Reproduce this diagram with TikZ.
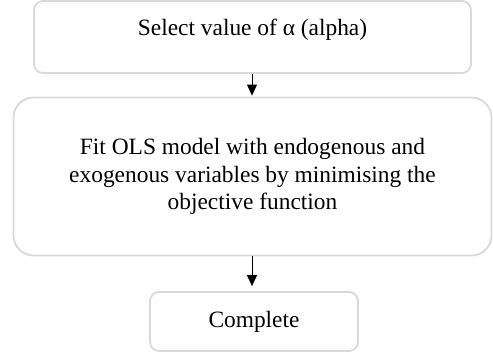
\documentclass[tikz,border=0pt]{standalone}
\usepackage{fontspec}
\setmainfont{Liberation Serif}
\usetikzlibrary{arrows.meta}
\begin{document}
\begin{tikzpicture}[x=1pt,y=1pt,
  box/.style={draw=black!15, line width=1.8pt, fill=white, align=center, inner sep=0pt,
    font=\fontsize{23.4}{27.5}\selectfont},
  conn/.style={-{Triangle[length=11pt,width=10pt]}, line width=0.9pt, black}]
\useasboundingbox (0,0) rectangle (493,-360);
\node[box, rounded corners=9pt, minimum width=437pt, minimum height=72pt, text height=16.5pt, text depth=19pt] (a) at (252.5,-37) {Select value of α (alpha)};
\node[box, rounded corners=20pt, minimum width=478pt, minimum height=158pt] (b) at (252.5,-176.5)
  {Fit OLS model with endogenous and\\exogenous variables by minimising the\\objective function};
\node[box, rounded corners=9pt, minimum width=208pt, minimum height=59pt] (c) at (254,-321.5) {Complete};
\draw[conn] (a.south -| 252,0) -- ([yshift=1pt]b.north -| 252,0);
\draw[conn] (b.south -| 252,0) -- ([yshift=5pt]c.north -| 252,0);
\end{tikzpicture}
\end{document}
